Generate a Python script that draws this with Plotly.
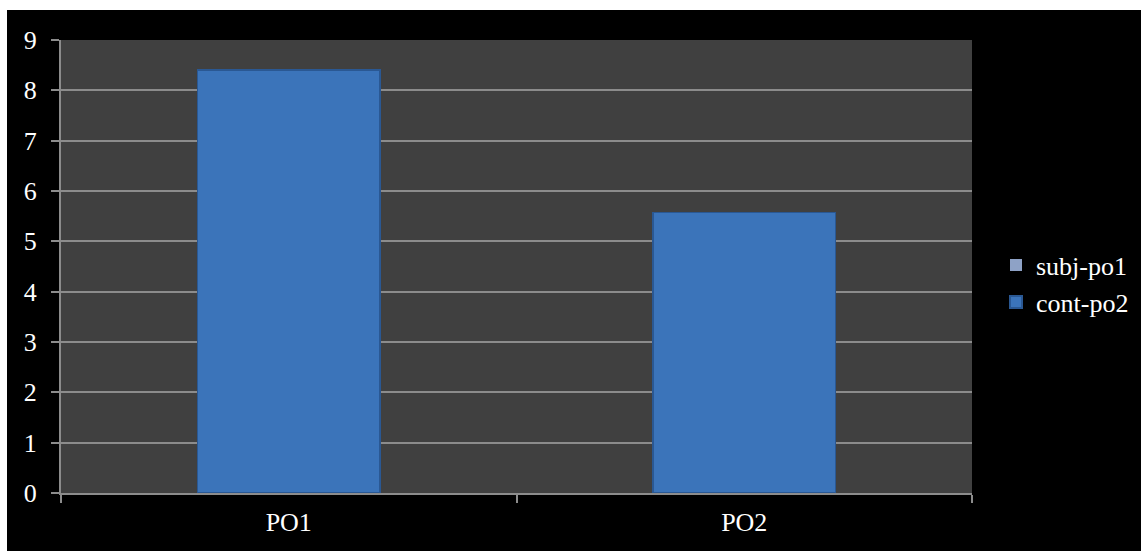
import plotly.graph_objects as go

# Chart data
categories = ["PO1", "PO2"]
subj_po1 = [0, 0]
cont_po2 = [8.4, 5.57]
y_ticks = [0, 1, 2, 3, 4, 5, 6, 7, 8, 9]

W, H = 1141, 551
PL, PR, PT, PB = 61, 972, 40, 493  # plot area edges in pixels
pw, ph = PR - PL, PB - PT
serif = "Liberation Serif"

fig = go.Figure()
fig.add_trace(go.Bar(
    name="subj-po1", x=categories, y=subj_po1,
    marker=dict(color="#8EA2C6", line=dict(width=0)),
))
fig.add_trace(go.Bar(
    name="cont-po2", x=categories, y=cont_po2,
    marker=dict(color="#3B74BA", line=dict(color="#2A5893", width=1.5)),
))

# white page strips along the top and left edges of the black frame
def px_x(v):
    return (v - PL) / pw

def px_y(v):
    return (PB - v) / ph

fig.add_shape(type="rect", xref="paper", yref="paper", layer="above",
              x0=px_x(-5), x1=px_x(W + 5), y0=px_y(10), y1=px_y(-5),
              fillcolor="white", line=dict(width=0))
fig.add_shape(type="rect", xref="paper", yref="paper", layer="above",
              x0=px_x(-5), x1=px_x(7), y0=px_y(H + 5), y1=px_y(-5),
              fillcolor="white", line=dict(width=0))

fig.update_layout(
    width=W, height=H,
    barmode="stack", bargap=0.6,
    paper_bgcolor="black", plot_bgcolor="#404040",
    margin=dict(l=PL, r=W - PR, t=PT, b=H - PB, autoexpand=False),
    font=dict(family=serif, color="white", size=26),
    showlegend=True,
    legend=dict(traceorder="normal", x=px_x(996), xanchor="left", y=0.462, yanchor="middle",
                font=dict(family=serif, size=26, color="white"), bgcolor="rgba(0,0,0,0)",
                itemsizing="constant", tracegroupgap=0),
    xaxis=dict(showline=True, linecolor="#8c8c8c", linewidth=2, ticks="outside",
               tickson="boundaries", ticklen=8, tickcolor="#8c8c8c", tickwidth=2,
               ticklabelstandoff=5,
               tickfont=dict(family=serif, size=26, color="white"), showgrid=False),
    yaxis=dict(range=[0, 9], tickvals=y_ticks, showline=True, linecolor="#8c8c8c", linewidth=2,
               ticks="outside", ticklen=8, tickcolor="#8c8c8c", tickwidth=2,
               ticklabelstandoff=9,
               gridcolor="#8c8c8c", gridwidth=1.5, zeroline=False,
               tickfont=dict(family=serif, size=26, color="white")),
)

fig.write_html("out.html")
